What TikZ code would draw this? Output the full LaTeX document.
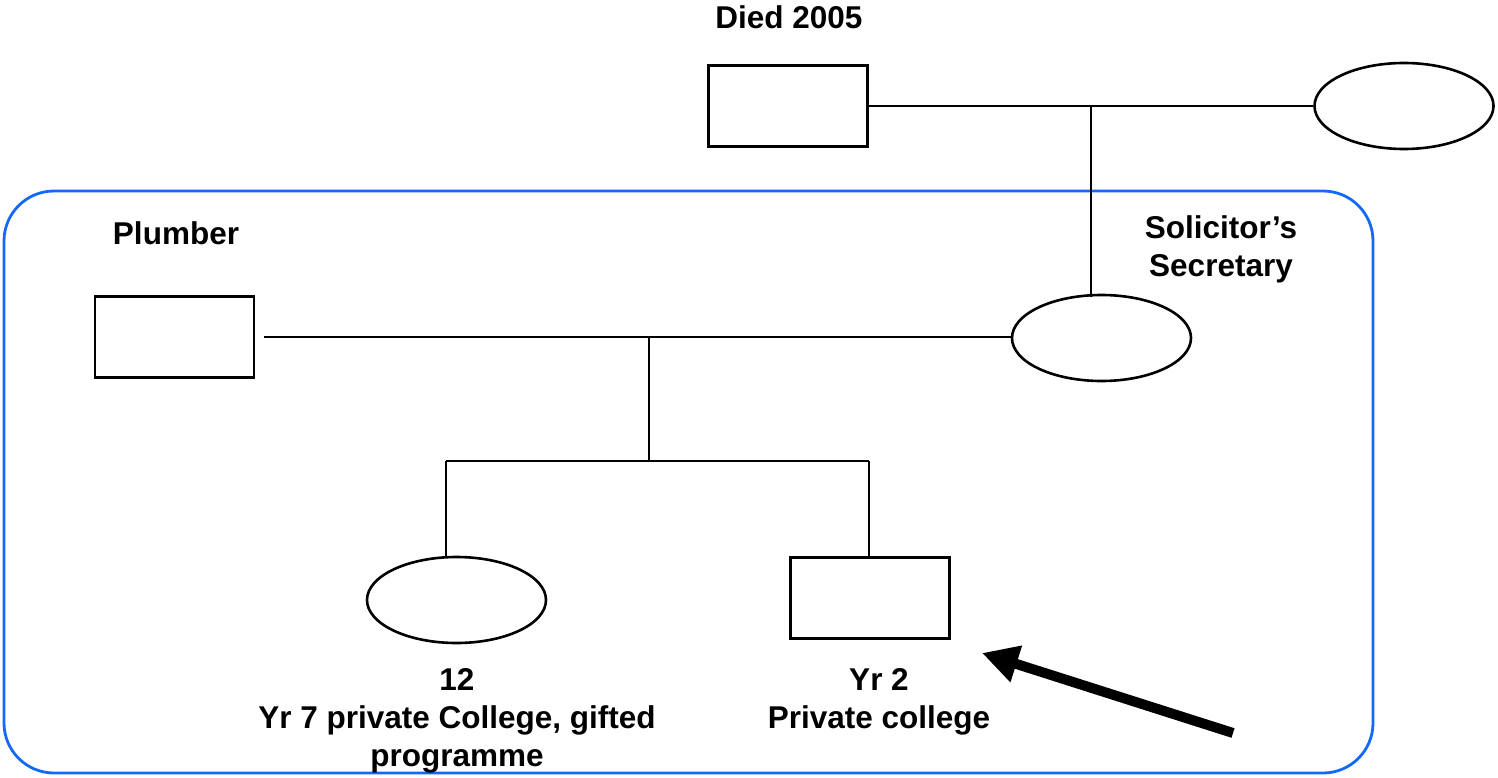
\documentclass[tikz,border=0pt]{standalone}
\usepackage{fontspec}
\setmainfont{Liberation Sans}
\usetikzlibrary{arrows.meta,shapes.geometric}
\definecolor{boxblue}{RGB}{20,105,250}
\begin{document}
\begin{tikzpicture}[x=1pt,y=-1pt,
  person/.style={draw=black,line width=2.6pt,inner sep=0pt,fill=white},
  male/.style={person,rectangle,minimum width=159pt,minimum height=81pt},
  female/.style={person,ellipse,minimum width=179pt,minimum height=86pt},
  link/.style={draw=black,line width=2.6pt},
  lbl/.style={inner sep=0pt,font=\fontsize{31.5}{38}\selectfont\bfseries,align=center}]
\useasboundingbox (0,0) rectangle (1498,778);
% family box
\draw[boxblue,line width=2.8pt,rounded corners=50pt] (4,191) rectangle (1373,773);
% grandparents
\node[male] (gf) at (788,106) {};
\node[female] (gm) at (1404,106) {};
\coordinate (m1) at (1091,106);
\draw[link] (gf.east) -- (gm.west);
% parents
\node[male] (dad) at (174.5,337) {};
\node[female] (mum) at (1101.5,338) {};
\coordinate (d1) at (264,337);
\coordinate (m2) at (649,337);
\draw[link] (m1) -- (1091,296.5);
\draw[link] (d1) -- (mum.west |- d1);
% children
\coordinate (s1) at (649,461);
\coordinate (sl) at (446,461);
\coordinate (sr) at (869,461);
\node[female] (girl) at (456.5,600) {};
\node[male] (boy) at (870,598) {};
\draw[link] (m2) -- (s1);
\draw[link] (sl) -- (sr);
\draw[link] (sl) -- (sl |- girl.north);
\draw[link] (sr) -- (sr |- boy.north);
% labels
\node[lbl,anchor=base] (tdied) at (789,29) {Died 2005};
\node[lbl,anchor=base] (tplumb) at (176,244) {Plumber};
\node[lbl,anchor=north] (tsol) at (1221,215) {Solicitor’s\\Secretary};
\node[lbl,anchor=north] (tgirl) at (457,668) {12\\Yr 7 private College, gifted\\programme};
\node[lbl,anchor=north] (tboy) at (879,668) {Yr 2\\Private college};
% arrow
\coordinate (atail) at (1233,733);
\coordinate (ahead) at (982,653);
\draw[line width=10pt,-{Triangle[length=36pt,width=36pt]}] (atail) -- (ahead);
\end{tikzpicture}
\end{document}
